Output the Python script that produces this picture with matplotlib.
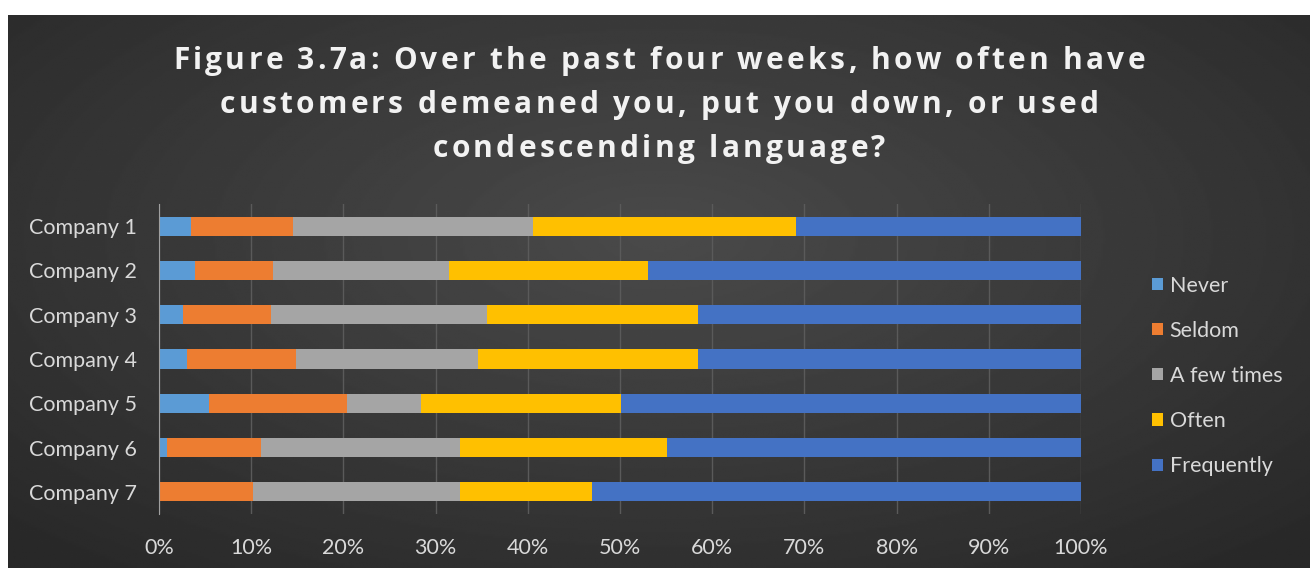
import numpy as np
import matplotlib as mpl
mpl.use('Agg')
import matplotlib.pyplot as plt
from matplotlib.font_manager import FontProperties

companies = ["Company 1", "Company 2", "Company 3", "Company 4",
             "Company 5", "Company 6", "Company 7"]
categories = ["Never", "Seldom", "A few times", "Often", "Frequently"]
title_lines = ["Figure 3.7a: Over the past four weeks, how often have",
               "customers demeaned you, put you down, or used",
               "condescending language?"]

# shares (%)
never = [3.5, 3.9, 2.6, 3.0, 5.4, 0.9, 0.0]
seldom = [11.0, 8.5, 9.6, 11.9, 15.0, 10.2, 10.2]
few_times = [26.1, 19.0, 23.4, 19.7, 8.0, 21.5, 22.5]
often = [28.5, 21.6, 22.9, 23.9, 21.7, 22.5, 14.3]
frequently = [30.9, 47.0, 41.5, 41.5, 49.9, 44.9, 53.0]

colors = ["#5B9BD5", "#ED7D31", "#A5A5A5", "#FFC000", "#4472C4"]
series = [never, seldom, few_times, often, frequently]

W, H = 1314, 568
fig = plt.figure(figsize=(W / 100, H / 100), dpi=100)
fig.patch.set_facecolor("white")

# dark radial background of the chart box
bg = fig.add_axes([8 / W, 0, 1302 / W, 1 - 15 / H])
yy, xx = np.mgrid[-1:1:300j, -1:1:600j]
r = np.sqrt(xx ** 2 + ((yy + 0.2) / 1.1) ** 2)
img = 0.29 - 0.13 * np.clip(r, 0, 1.4) / 1.4
bg.imshow(img, cmap="gray", vmin=0, vmax=1, aspect="auto", extent=[0, 1, 0, 1])
bg.set_axis_off()

fnt = "Lato"

# title with expanded letter spacing, placed char by char
renderer = fig.canvas.get_renderer()
tp = FontProperties(family="Open Sans", weight="bold", size=21.5)

def twidth(s):
    return renderer.get_text_width_height_descent(s, tp, ismath=False)[0]

first = title_lines[0]
spacing = (972 - twidth(first)) / (len(first) - 1)
ref = twidth("l")
for k, line in enumerate(title_lines):
    offs = [twidth(line[:i] + "l") - ref for i in range(len(line))]
    total = twidth(line) + spacing * (len(line) - 1)
    x0 = 659 - total / 2
    base = 1 - (69 + 44 * k) / H
    for i, ch in enumerate(line):
        if ch == " ":
            continue
        fig.text((x0 + offs[i] + spacing * i) / W, base, ch, ha="left",
                 va="baseline", color="#F2F2F2", fontproperties=tp)

ax = fig.add_axes([159 / W, 1 - 514 / H, (1081 - 159) / W, 310 / H])
ax.set_facecolor("none")
y = np.arange(len(companies))
left = np.zeros(len(companies))
for vals, col, name in zip(series, colors, categories):
    ax.barh(y, vals, left=left, height=0.43, color=col, label=name, zorder=3)
    left = left + np.array(vals)

ax.set_xlim(0, 100)
ax.set_ylim(len(companies) - 0.5, -0.5)
ax.set_yticks(y)
ax.set_yticklabels(companies)
ax.set_xticks(np.arange(0, 101, 10))
ax.set_xticklabels([f"{v}%" for v in range(0, 101, 10)])
ax.tick_params(length=0, colors="#D9D9D9", labelsize=15.5)
ax.tick_params(axis="y", pad=16)
ax.tick_params(axis="x", pad=17)
for lab in ax.get_xticklabels() + ax.get_yticklabels():
    lab.set_family(fnt)
ax.grid(axis="x", color="#5A5A5A", linewidth=1, zorder=0)
for s in ["top", "right", "bottom"]:
    ax.spines[s].set_visible(False)
ax.spines["left"].set_color("#A0A0A0")
ax.spines["left"].set_zorder(4)

leg = ax.legend(loc="upper left", bbox_to_anchor=(1.068, 0.797), frameon=False,
                labelcolor="#D9D9D9", prop={"family": fnt, "size": 15.5},
                handlelength=0.5, handleheight=0.5, handletextpad=0.3,
                labelspacing=1.17, borderaxespad=0)

fig.savefig("out.png", dpi=100, facecolor=fig.get_facecolor())
